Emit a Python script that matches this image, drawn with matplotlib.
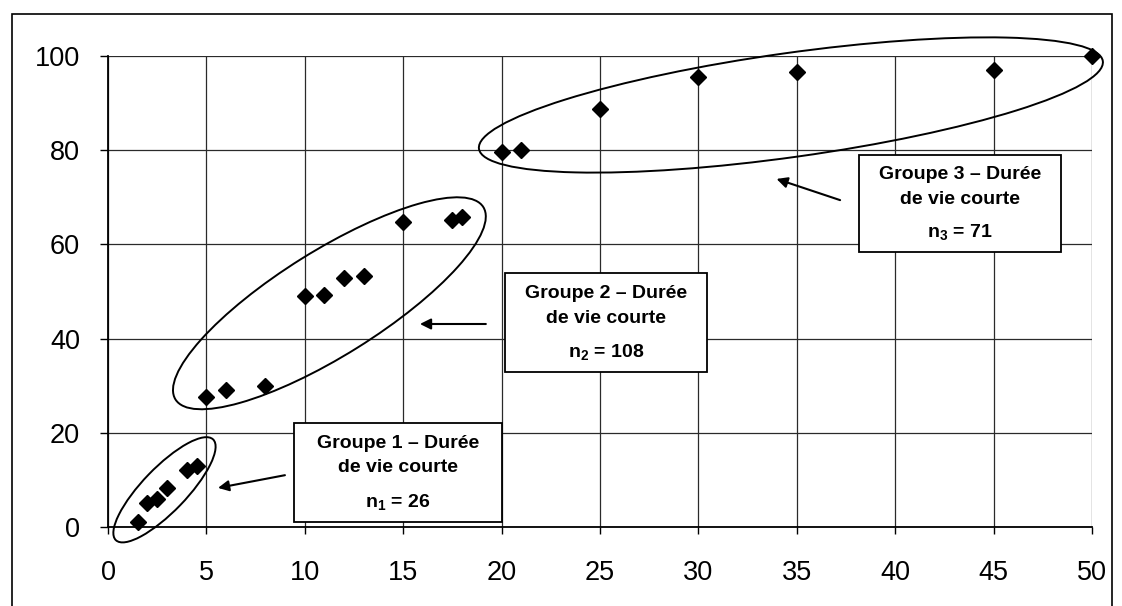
import matplotlib
matplotlib.use("Agg")
import matplotlib.pyplot as plt
from matplotlib.patches import Ellipse, Rectangle
from matplotlib.transforms import ScaledTranslation

plt.rcParams['font.family'] = ['Liberation Sans', 'DejaVu Sans']
plt.rcParams['mathtext.fontset'] = 'custom'
plt.rcParams['mathtext.rm'] = 'Liberation Sans'
plt.rcParams['mathtext.bf'] = 'Liberation Sans:bold'

# Observations per group (x, cumulative %)
g1_x = [1.5, 2, 2.5, 3, 4, 4.5]
g1_y = [1, 5.2, 6, 8.2, 12, 12.9]
g2_x = [5, 6, 8, 10, 11, 12, 13, 15, 17.5, 18]
g2_y = [27.5, 29, 30, 49, 49.3, 52.8, 53.2, 64.8, 65.2, 65.9]
g3_x = [20, 21, 25, 30, 35, 45, 50]
g3_y = [79.6, 80, 88.8, 95.6, 96.5, 97, 100]

x_ticks = [0, 5, 10, 15, 20, 25, 30, 35, 40, 45, 50]
y_ticks = [0, 20, 40, 60, 80, 100]

box_line1 = ["Groupe 1 \u2013 Durée", "Groupe 2 \u2013 Durée", "Groupe 3 \u2013 Durée"]
box_line2 = ["de vie courte", "de vie courte", "de vie courte"]
box_counts = [r"n$_\mathbf{1}$ = 26", r"n$_\mathbf{2}$ = 108", r"n$_\mathbf{3}$ = 71"]

W, H = 1122, 606
fig = plt.figure(figsize=(W / 100, H / 100), dpi=100)
ax = fig.add_axes([108 / W, (H - 527) / H, (1092 - 108) / W, (527 - 56) / H])

ax.set_xlim(0, 50)
ax.set_ylim(0, 100)
ax.set_xticks(x_ticks)
ax.set_yticks(y_ticks)
ax.grid(True, color='#2a2a2a', linewidth=0.9)
ax.set_axisbelow(True)
for side in ('top', 'right'):
    ax.spines[side].set_visible(False)
for side in ('left', 'bottom'):
    ax.spines[side].set_linewidth(1.3)
ax.tick_params(axis='x', direction='out', length=5, width=1, labelsize=19.5, pad=19)
ax.tick_params(axis='y', direction='out', length=6, width=1, labelsize=19.5, pad=14)

for xs, ys in ((g1_x, g1_y), (g2_x, g2_y), (g3_x, g3_y)):
    ax.plot(xs, ys, linestyle='none', marker='D', markersize=8.3,
            color='black', clip_on=False, zorder=4)

# Group outlines: centre in data units, full axes in pixels, tilt in degrees
ellipses = [((2.87, 7.9), 140, 44, 46),
            ((11.25, 47.5), 363, 105, 32),
            ((34.7, 89.6), 630, 104, 8)]
for (cx, cy), w, h, ang in ellipses:
    ax.add_patch(Ellipse((0, 0), w, h, angle=ang, fill=False, edgecolor='black',
                         linewidth=1.4, zorder=5,
                         transform=ScaledTranslation(cx, cy, ax.transData),
                         clip_on=False))

# Arrows pointing from the labels to the groups
arrows = [((8.99, 11.0), (5.59, 8.3)),
          ((19.2, 43.1), (15.85, 43.1)),
          ((37.2, 69.4), (33.97, 73.9))]
for tail, head in arrows:
    ax.annotate('', xy=head, xytext=tail,
                arrowprops=dict(arrowstyle='-|>', color='black', lw=1.5,
                                mutation_scale=16, shrinkA=0, shrinkB=0),
                zorder=5)

# Label boxes (x0, x1, y0, y1 in data units)
boxes = [(9.45, 20.02, 1.1, 22.1),
         (20.17, 30.44, 32.9, 53.9),
         (38.16, 48.42, 58.4, 79.0)]
for (x0, x1, y0, y1), l1, l2, count in zip(boxes, box_line1, box_line2, box_counts):
    ax.add_patch(Rectangle((x0, y0), x1 - x0, y1 - y0, facecolor='white',
                           edgecolor='black', linewidth=1.3, zorder=6))
    xc = (x0 + x1) / 2
    span = y1 - y0
    for text, frac in ((l1, 0.205), (l2, 0.455), (count, 0.805)):
        ax.text(xc, y1 - span * frac, text, ha='center', va='center',
                fontsize=14, fontweight='bold', zorder=7)

# Outer frame around the chart
fig.add_artist(Rectangle((12 / W, -0.05), (1112 - 12) / W, (H - 14) / H + 0.05,
                         transform=fig.transFigure, fill=False,
                         edgecolor='black', linewidth=1.2))

fig.savefig('out.png', dpi=100, facecolor='white')
